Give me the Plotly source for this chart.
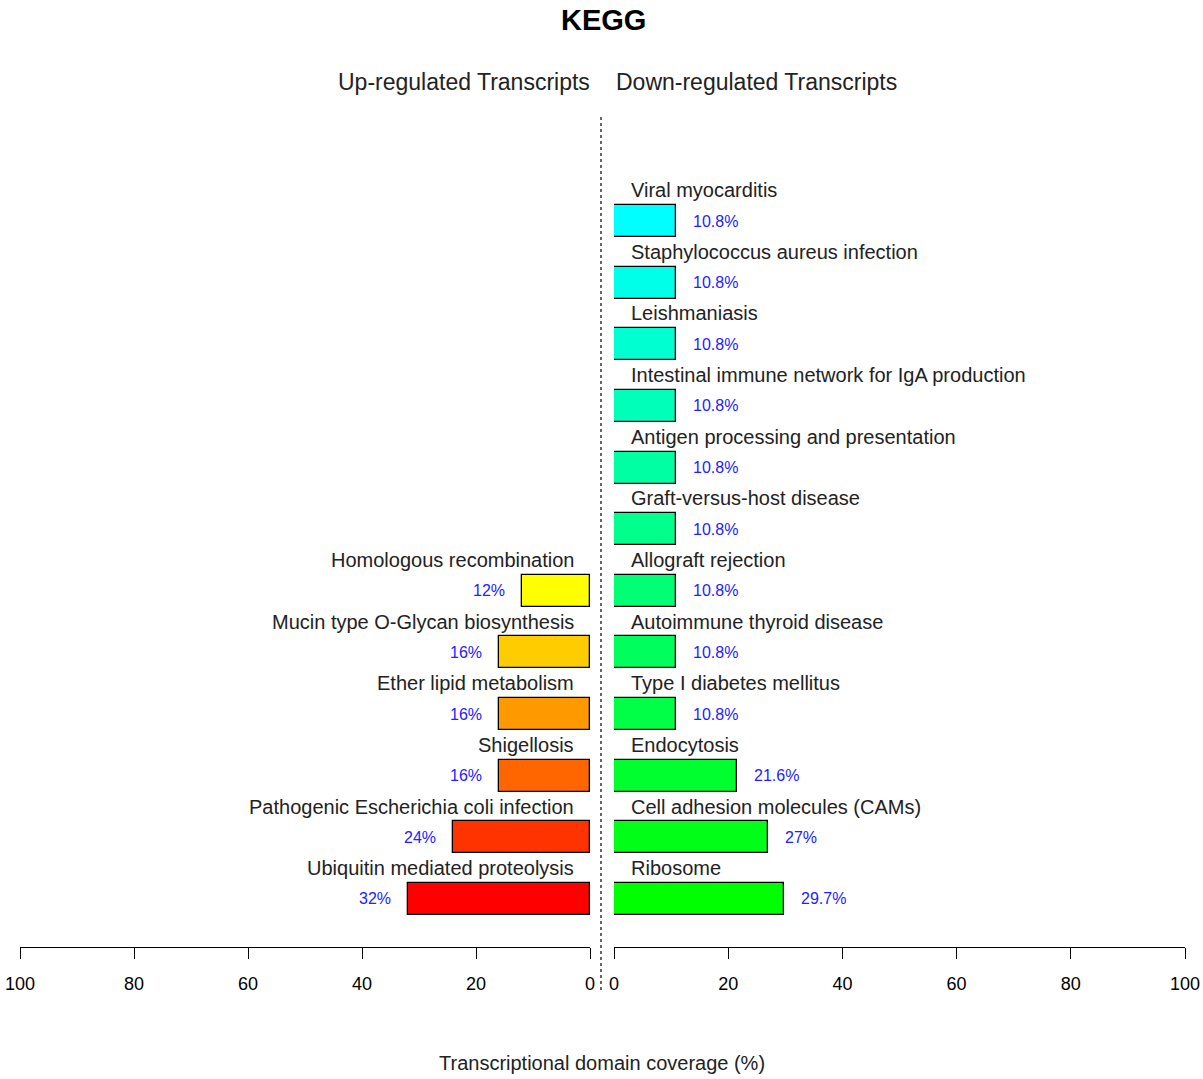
import plotly.graph_objects as go

# ---- data (bottom to top) ----
up_terms = ["Ubiquitin mediated proteolysis", "Pathogenic Escherichia coli infection",
            "Shigellosis", "Ether lipid metabolism", "Mucin type O-Glycan biosynthesis",
            "Homologous recombination"]
up_values = [32, 24, 16, 16, 16, 12]
up_labels = ["32%", "24%", "16%", "16%", "16%", "12%"]
up_colors = ["#FF0000", "#FF3300", "#FF6600", "#FF9900", "#FFCC00", "#FFFF00"]

down_terms = ["Ribosome", "Cell adhesion molecules (CAMs)", "Endocytosis",
              "Type I diabetes mellitus", "Autoimmune thyroid disease", "Allograft rejection",
              "Graft-versus-host disease", "Antigen processing and presentation",
              "Intestinal immune network for IgA production", "Leishmaniasis",
              "Staphylococcus aureus infection", "Viral myocarditis"]
down_values = [29.7, 27, 21.6, 10.8, 10.8, 10.8, 10.8, 10.8, 10.8, 10.8, 10.8, 10.8]
down_labels = ["29.7%", "27%", "21.6%", "10.8%", "10.8%", "10.8%", "10.8%", "10.8%",
               "10.8%", "10.8%", "10.8%", "10.8%"]
down_colors = ["#00FF00", "#00FF17", "#00FF2E", "#00FF46", "#00FF5D", "#00FF74",
               "#00FF8B", "#00FFA2", "#00FFB9", "#00FFD1", "#00FFE8", "#00FFFF"]

tick_vals = [0, 20, 40, 60, 80, 100]
tick_text = ["0", "20", "40", "60", "80", "100"]

W, H = 1203, 1079
FONT = "Liberation Sans, Arial, sans-serif"

top_px, bot_px = 115, 947
plot_h = bot_px - top_px


def px(rx):
    return rx / W


def py(ry):
    return (bot_px - ry) / plot_h


fig = go.Figure()
fig.add_trace(go.Bar(
    x=up_values, y=list(range(len(up_values))), orientation="h", base=0,
    width=0.52, marker=dict(color=up_colors, line=dict(color="black", width=1.3)),
    xaxis="x", yaxis="y", showlegend=False, hoverinfo="skip"))
fig.add_trace(go.Bar(
    x=down_values, y=list(range(len(down_values))), orientation="h", base=0,
    width=0.52, marker=dict(color=down_colors, line=dict(color="black", width=1.3)),
    xaxis="x2", yaxis="y", showlegend=False, hoverinfo="skip"))

annotations = []
for i, (t, v, l) in enumerate(zip(up_terms, up_values, up_labels)):
    annotations.append(dict(x=0, y=i + 0.5, xref="x", yref="y", text=t, showarrow=False,
                            xanchor="right", yanchor="middle", xshift=-14,
                            font=dict(size=20, color="#222222", family=FONT)))
    annotations.append(dict(x=v, y=i, xref="x", yref="y", text=l, showarrow=False,
                            xanchor="right", yanchor="middle", xshift=-15,
                            font=dict(size=16, color="#2222FF", family=FONT)))
for i, (t, v, l) in enumerate(zip(down_terms, down_values, down_labels)):
    annotations.append(dict(x=0, y=i + 0.5, xref="x2", yref="y", text=t, showarrow=False,
                            xanchor="left", yanchor="middle", xshift=15,
                            font=dict(size=20, color="#222222", family=FONT)))
    annotations.append(dict(x=v, y=i, xref="x2", yref="y", text=l, showarrow=False,
                            xanchor="left", yanchor="middle", xshift=15,
                            font=dict(size=16, color="#2222FF", family=FONT)))

annotations += [
    dict(x=px(603), y=py(20), xref="paper", yref="paper", text="<b>KEGG</b>",
         showarrow=False, xanchor="center", yanchor="middle",
         font=dict(size=29, color="black", family=FONT)),
    dict(x=px(592), y=py(82), xref="paper", yref="paper", text="Up-regulated Transcripts",
         showarrow=False, xanchor="right", yanchor="middle",
         font=dict(size=23, color="#222222", family=FONT)),
    dict(x=px(614), y=py(82), xref="paper", yref="paper", text="Down-regulated Transcripts",
         showarrow=False, xanchor="left", yanchor="middle",
         font=dict(size=23, color="#222222", family=FONT)),
    dict(x=px(602), y=py(1063), xref="paper", yref="paper",
         text="Transcriptional domain coverage (%)",
         showarrow=False, xanchor="center", yanchor="middle",
         font=dict(size=20, color="#222222", family=FONT)),
]

axis_common = dict(tickvals=tick_vals, ticktext=tick_text,
                   showgrid=False, zeroline=False, showline=True, linecolor="black",
                   linewidth=1.3, ticks="outside", ticklen=11, tickwidth=1.3,
                   tickcolor="black", ticklabelstandoff=9, automargin=False,
                   tickfont=dict(size=18, color="black", family=FONT), anchor="y")

fig.update_layout(
    width=W, height=H, plot_bgcolor="white", paper_bgcolor="white",
    margin=dict(l=0, r=0, t=top_px, b=H - bot_px, autoexpand=False),
    bargap=0, annotations=annotations,
    xaxis=dict(domain=[px(20), px(590)], range=[100, 0], **axis_common),
    xaxis2=dict(domain=[px(614), px(1185)], range=[0, 100], **axis_common),
    yaxis=dict(range=[-0.779, 12.72], visible=False, fixedrange=True),
    shapes=[dict(type="line", xref="paper", yref="paper", x0=px(601), x1=px(601),
                 y0=py(990), y1=py(115),
                 line=dict(color="#333333", width=1.5, dash="dot"))],
)

fig.write_html("out.html", config={"displayModeBar": False},
               post_script="document.body.style.margin='0';document.body.style.overflow='hidden';")
